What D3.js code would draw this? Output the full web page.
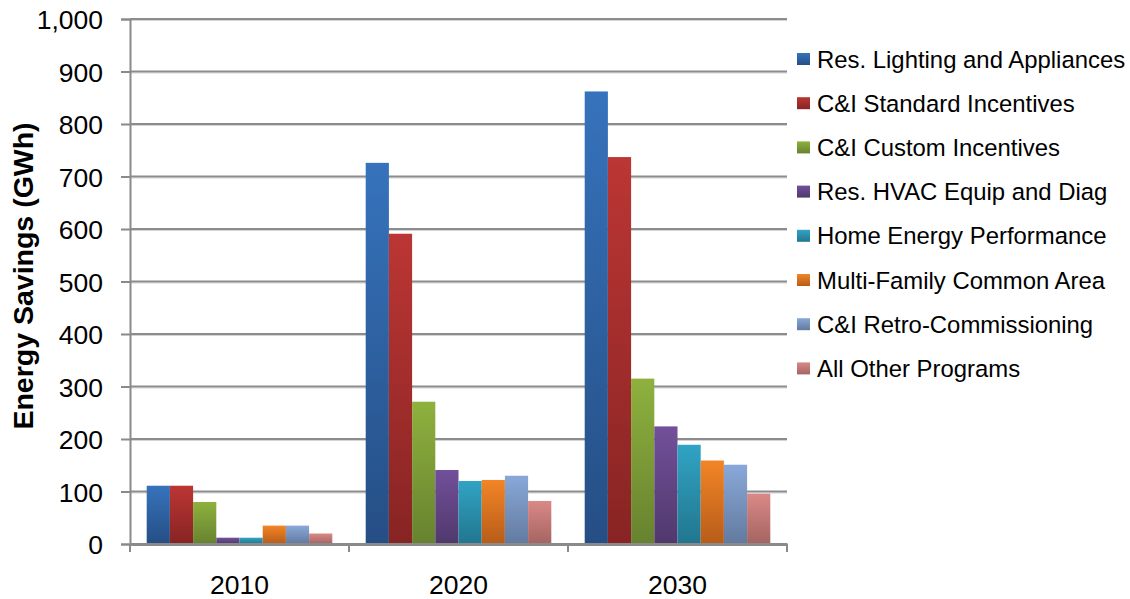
<!DOCTYPE html>
<html>
<head>
<meta charset="utf-8">
<script src="https://cdn.jsdelivr.net/npm/d3@7"></script>
<style>
  html, body { margin: 0; padding: 0; background: #fff; }
  svg { display: block; font-family: "Liberation Sans", Arial, sans-serif; }
</style>
</head>
<body>
<svg id="chart" width="1130" height="599"></svg>
<script>
// Energy savings by program, GWh
const years = ["2010", "2020", "2030"];
const programs = [
  "Res. Lighting and Appliances",
  "C&I Standard Incentives",
  "C&I Custom Incentives",
  "Res. HVAC Equip and Diag",
  "Home Energy Performance",
  "Multi-Family Common Area",
  "C&I Retro-Commissioning",
  "All Other Programs"
];
const resLighting   = [111, 726, 862];
const ciStandard    = [111, 591, 737];
const ciCustom      = [80, 271, 315];
const resHvac       = [12, 141, 224];
const homeEnergy    = [12, 120, 189];
const multiFamily   = [35, 122, 159];
const ciRetro       = [35, 130, 151];
const allOther      = [20, 82, 96];
const yTicks = [0, 100, 200, 300, 400, 500, 600, 700, 800, 900, 1000];

const seriesValues = [resLighting, ciStandard, ciCustom, resHvac, homeEnergy, multiFamily, ciRetro, allOther];

// gradient stops per series: [top, bottom]
const shades = [
  ["#3673bc", "#254e84"],
  ["#bb3634", "#872423"],
  ["#8eb13e", "#67822f"],
  ["#72509a", "#50386c"],
  ["#31a3c4", "#21768e"],
  ["#f28526", "#b75c1a"],
  ["#89a8d9", "#627a9e"],
  ["#da8986", "#a46461"]
];

const svg = d3.select("#chart");
const plotLeft = 130, plotRight = 787, plotTop = 19, plotBottom = 544;

const x0 = d3.scaleBand().domain(years).range([plotLeft, plotRight]).paddingInner(0).paddingOuter(0);
const x1 = d3.scaleBand().domain(d3.range(programs.length))
  .range([0, x0.bandwidth()]).paddingInner(0).paddingOuter(0.72);
const y = d3.scaleLinear().domain([0, 1000]).range([plotBottom, plotTop]);

const defs = svg.append("defs");
shades.forEach((c, i) => {
  const g = defs.append("linearGradient")
    .attr("id", "grad" + i)
    .attr("x1", 0).attr("y1", 0).attr("x2", 0).attr("y2", 1);
  g.append("stop").attr("offset", "0%").attr("stop-color", c[0]);
  g.append("stop").attr("offset", "100%").attr("stop-color", c[1]);
});

// horizontal gridlines
const grid = svg.append("g");
grid.selectAll("line.shadow")
  .data(yTicks.filter(d => d > 0))
  .join("line")
  .attr("class", "shadow")
  .attr("x1", plotLeft).attr("x2", plotRight)
  .attr("y1", d => y(d) + 1.5).attr("y2", d => y(d) + 1.5)
  .attr("stroke", "#d4d4d4").attr("stroke-width", 1);
grid.selectAll("line.major")
  .data(yTicks.filter(d => d > 0))
  .join("line")
  .attr("class", "major")
  .attr("x1", plotLeft).attr("x2", plotRight)
  .attr("y1", d => y(d)).attr("y2", d => y(d))
  .attr("stroke", "#8c8c8c").attr("stroke-width", 2);

// bars
const groups = svg.append("g").selectAll("g")
  .data(years)
  .join("g")
  .attr("transform", d => `translate(${x0(d)},0)`);

groups.selectAll("rect")
  .data((yr, yi) => seriesValues.map((vals, si) => ({ si, v: vals[yi] })))
  .join("rect")
  .attr("x", d => x1(d.si))
  .attr("width", x1.bandwidth())
  .attr("y", d => y(d.v))
  .attr("height", d => y(0) - y(d.v))
  .attr("fill", d => `url(#grad${d.si})`);

// y axis
const yAxis = d3.axisLeft(y).tickValues(yTicks).tickSize(9).tickPadding(18)
  .tickFormat(d3.format(","));
const gy = svg.append("g").attr("transform", `translate(${plotLeft},0)`).call(yAxis);
gy.select(".domain").attr("stroke", "#8a8a8a").attr("stroke-width", 2);
gy.selectAll(".tick line").attr("stroke", "#8a8a8a").attr("stroke-width", 2);
gy.selectAll(".tick text")
  .attr("font-size", 26.5).attr("fill", "#000")
  .attr("font-family", "Liberation Sans, Arial, sans-serif")
  .attr("dy", "0.36em");

// x axis
const xAxis = d3.axisBottom(x0).tickSize(0).tickPadding(31);
const gx = svg.append("g").attr("transform", `translate(0,${plotBottom})`).call(xAxis);
gx.select(".domain").attr("stroke", "#8a8a8a").attr("stroke-width", 3);
gx.selectAll(".tick text")
  .attr("font-size", 26.5).attr("fill", "#000")
  .attr("font-family", "Liberation Sans, Arial, sans-serif");
// category separators below axis
gx.selectAll("line.sep")
  .data(years.map(d => x0(d)).concat([plotRight]))
  .join("line")
  .attr("class", "sep")
  .attr("x1", d => d).attr("x2", d => d)
  .attr("y1", 0).attr("y2", 8)
  .attr("stroke", "#8a8a8a").attr("stroke-width", 2);

// y axis title
svg.append("text")
  .attr("transform", `translate(33,276) rotate(-90)`)
  .attr("text-anchor", "middle")
  .attr("font-size", 28.5).attr("font-weight", "bold").attr("fill", "#000")
  .text("Energy Savings (GWh)");

// legend
const legend = svg.append("g").selectAll("g")
  .data(programs)
  .join("g")
  .attr("transform", (d, i) => `translate(797,${59 + i * 44.2})`);
legend.append("rect")
  .attr("x", 0).attr("y", -6).attr("width", 13).attr("height", 12)
  .attr("fill", (d, i) => `url(#grad${i})`);
legend.append("text")
  .attr("x", 20).attr("y", 0).attr("dy", "0.36em")
  .attr("font-size", 23.9).attr("fill", "#000")
  .text(d => d);
</script>
</body>
</html>
